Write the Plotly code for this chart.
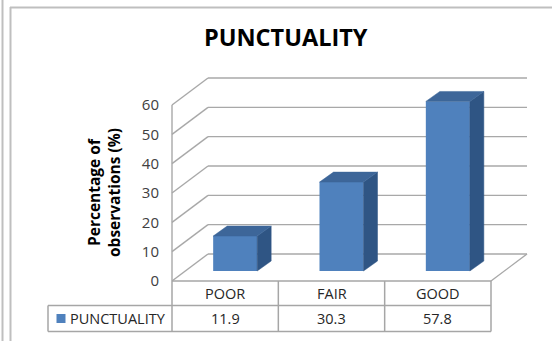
import plotly.graph_objects as go

# --- data -------------------------------------------------------------
categories = ["POOR", "FAIR", "GOOD"]
values = [11.9, 30.3, 57.8]
series_name = "PUNCTUALITY"
y_ticks = [0, 10, 20, 30, 40, 50, 60]
chart_title = "PUNCTUALITY"
y_title = "Percentage of<br>observations (%)"

# --- canvas geometry (pixels) ----------------------------------------
W, H = 552, 341
AX_LEFT_PX, AX_RIGHT_PX = 172, 491      # front edge of the floor
FLOOR_PX = 281                           # value 0 on the front plane
Y_PX_PER_UNIT = 176 / 60
X_PX_PER_UNIT = (AX_RIGHT_PX - AX_LEFT_PX) / len(categories)


def px_x(px):
    return -0.5 + (px - AX_LEFT_PX) / X_PX_PER_UNIT


def px_y(py):
    return (FLOOR_PX - py) / Y_PX_PER_UNIT


# oblique depth of the chart box and of the bars (in axis units)
DEPTH_X, DEPTH_Y = 36 / X_PX_PER_UNIT, 27 / Y_PX_PER_UNIT
BAR_OFF_X, BAR_OFF_Y = 10 / X_PX_PER_UNIT, 10 / Y_PX_PER_UNIT
BAR_W = 44 / X_PX_PER_UNIT
BAR_DX, BAR_DY = 14 / X_PX_PER_UNIT, 10 / Y_PX_PER_UNIT

FRONT = "#4F81BD"
TOP = "#3D6699"
SIDE = "#2F5584"
GRID = "#A8A8A8"
TABLE = "#A6A6A6"
FONT = "Open Sans"
TEXT = "#262626"

fig = go.Figure()
shapes = []


def seg(x0, y0, x1, y1, color=GRID, width=1.4):
    shapes.append(dict(type="line", xref="x", yref="y",
                       x0=x0, y0=y0, x1=x1, y1=y1, layer="below",
                       line=dict(color=color, width=width)))


# walls: gridlines run along the side wall and across the back wall
x_front_l = -0.5
x_back_l = x_front_l + DEPTH_X
x_back_r = len(categories) - 0.5 + DEPTH_X
for v in y_ticks:
    seg(x_front_l, v, x_back_l, v + DEPTH_Y)
    seg(x_back_l, v + DEPTH_Y, x_back_r, v + DEPTH_Y)
# front vertical edge of the side wall
seg(x_front_l, 0, x_front_l, y_ticks[-1])
# right edge of the floor
seg(len(categories) - 0.5, 0, x_back_r, DEPTH_Y)

# front faces of the columns
bar_x = [i + BAR_OFF_X for i in range(len(categories))]
fig.add_trace(go.Bar(x=bar_x, y=values, base=BAR_OFF_Y, width=BAR_W,
                     marker=dict(color=FRONT, line=dict(width=0)),
                     showlegend=False, hoverinfo="skip"))

# side and top faces
for xc, v in zip(bar_x, values):
    x0, x1 = xc - BAR_W / 2, xc + BAR_W / 2
    yb, yt = BAR_OFF_Y, BAR_OFF_Y + v
    fig.add_trace(go.Scatter(
        x=[x1, x1, x1 + BAR_DX, x1 + BAR_DX, x1],
        y=[yb, yt, yt + BAR_DY, yb + BAR_DY, yb],
        fill="toself", fillcolor=SIDE, mode="lines",
        line=dict(width=0.5, color=SIDE), showlegend=False, hoverinfo="skip"))
    fig.add_trace(go.Scatter(
        x=[x0, x1, x1 + BAR_DX, x0 + BAR_DX, x0],
        y=[yt, yt, yt + BAR_DY, yt + BAR_DY, yt],
        fill="toself", fillcolor=TOP, mode="lines",
        line=dict(width=0.5, color=TOP), showlegend=False, hoverinfo="skip"))

# data table under the chart
row_top, row_mid, row_bot = px_y(281), px_y(305.5), px_y(331.5)
legend_left = px_x(48)
n = len(categories)
seg(-0.5, row_top, n - 0.5, row_top, TABLE, 1.5)
seg(legend_left, row_mid, n - 0.5, row_mid, TABLE, 1.5)
seg(legend_left, row_bot, n - 0.5, row_bot, TABLE, 1.5)
seg(legend_left, row_mid, legend_left, row_bot, TABLE, 1.5)
for k in range(n + 1):
    seg(k - 0.5, row_top, k - 0.5, row_bot, TABLE, 1.5)

cell_font = dict(family=FONT, size=14.5, color=TEXT)
annotations = []
for i, (c, v) in enumerate(zip(categories, values)):
    annotations.append(dict(x=i, y=(row_top + row_mid) / 2, text=c, showarrow=False,
                            xref="x", yref="y", xanchor="center", yanchor="middle",
                            font=cell_font))
    annotations.append(dict(x=i, y=(row_mid + row_bot) / 2, text=f"{v}", showarrow=False,
                            xref="x", yref="y", xanchor="center", yanchor="middle",
                            font=cell_font))

# legend key and series name in the table
fig.add_trace(go.Scatter(x=[px_x(61)], y=[(row_mid + row_bot) / 2], mode="markers",
                         marker=dict(symbol="square", size=9, color=FRONT),
                         showlegend=False, hoverinfo="skip"))
annotations.append(dict(x=px_x(68), y=(row_mid + row_bot) / 2, text=series_name,
                        xanchor="left", yanchor="middle", showarrow=False,
                        xref="x", yref="y", font=cell_font))

# titles
annotations.append(dict(x=286 / W, y=1 - 37 / H, xref="paper", yref="paper",
                        xanchor="center", yanchor="middle",
                        text=f"<b>{chart_title}</b>", showarrow=False,
                        font=dict(family=FONT, size=23.5, color="#000000")))
annotations.append(dict(x=104 / W, y=1 - 193 / H, xref="paper", yref="paper",
                        xanchor="center", yanchor="middle",
                        text=f"<b>{y_title}</b>", showarrow=False, textangle=-90,
                        font=dict(family=FONT, size=15.5, color="#000000")))

# outer frame lines
shapes.append(dict(type="line", xref="paper", yref="paper", x0=2.5 / W, x1=2.5 / W,
                   y0=0, y1=1, line=dict(color="#BFBFBF", width=2)))
shapes.append(dict(type="line", xref="paper", yref="paper", x0=10.5 / W, x1=10.5 / W,
                   y0=0, y1=1 - 7 / H, line=dict(color="#BFBFBF", width=2)))
shapes.append(dict(type="line", xref="paper", yref="paper", x0=10 / W, x1=1,
                   y0=1 - 7.5 / H, y1=1 - 7.5 / H, line=dict(color="#BFBFBF", width=2)))

fig.update_layout(
    width=W, height=H, autosize=False,
    margin=dict(l=0, r=0, t=0, b=0),
    paper_bgcolor="white", plot_bgcolor="white",
    shapes=shapes, annotations=annotations,
    xaxis=dict(range=[px_x(0), px_x(W)], visible=False, fixedrange=True),
    yaxis=dict(range=[px_y(H), px_y(0)], tickmode="array", tickvals=y_ticks,
               showgrid=False, zeroline=False, showline=False, ticks="",
               anchor="free", position=AX_LEFT_PX / W, ticklabelstandoff=13,
               tickfont=dict(family=FONT, size=15, color="#404040"), fixedrange=True),
    showlegend=False,
)

fig.write_html("out.html")
